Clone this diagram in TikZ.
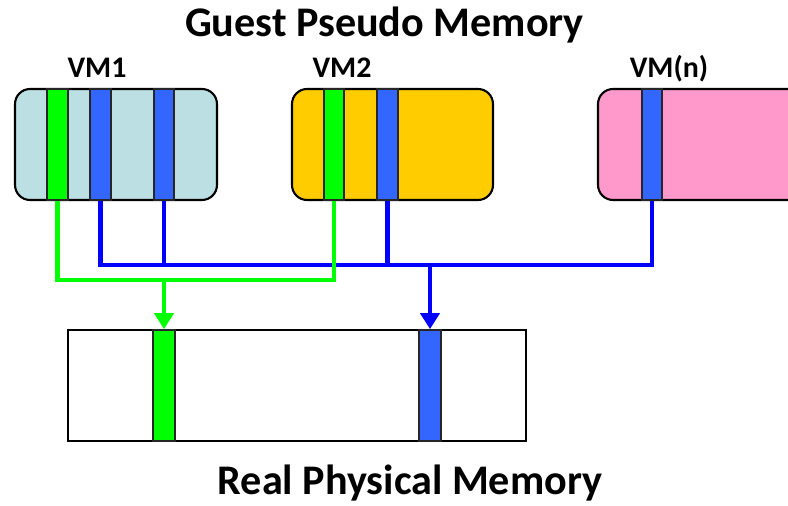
\documentclass[tikz,border=0pt]{standalone}
\usepackage{fontspec}
\setmainfont{Carlito}
\usetikzlibrary{arrows.meta,positioning}
\definecolor{vmcyan}{HTML}{BBDFE2}
\definecolor{vmgold}{HTML}{FFCC00}
\definecolor{vmpink}{HTML}{FF99CC}
\definecolor{pageblue}{HTML}{3366FF}
\definecolor{pagegreen}{HTML}{00FF00}
\definecolor{linkblue}{HTML}{0000FF}

\begin{document}
\begin{tikzpicture}[
  x=0.02cm, y=-0.02cm,
  vmbox/.style={rectangle, draw=black, line width=1.2pt, rounded corners=0.3cm, minimum height=2.22cm, inner sep=0pt},
  membox/.style={rectangle, draw=black, line width=1.2pt, fill=white, minimum height=2.22cm, inner sep=0pt},
  page/.style={rectangle, draw=black!85, line width=1pt, minimum width=0.41cm, minimum height=2.22cm, inner sep=0pt},
  link/.style={line width=2.6pt},
  tip/.style={-{Triangle[width=0.38cm,length=0.32cm]}},
  heading/.style={anchor=base, font=\bfseries\fontsize{24}{28}\selectfont},
  vmname/.style={anchor=base, font=\bfseries\fontsize{17}{20}\selectfont}]
\useasboundingbox (0,0) rectangle (788,506);
\node[heading] (guest) at (384.5,37) {Guest Pseudo Memory};
\node[heading] (real) at (410,495) {Real Physical Memory};
% guest memories
\node[vmname] (n1) at (97,78) {VM1};
\node[vmname] (n2) at (342,78) {VM2};
\node[vmname] (nn) at (669,78) {VM(n)};
\node[vmbox, fill=vmcyan, minimum width=4.04cm] (vm1) at (116,144.5) {};
\node[vmbox, fill=vmgold, minimum width=4.02cm] (vm2) at (392.5,144.5) {};
\node[vmbox, fill=vmpink, minimum width=4.6cm] (vmn) at (713,144.5) {};
\node[page, fill=pagegreen] (g1) at (57.5,144.5) {};
\node[page, fill=pageblue] (b1) at (100.5,144.5) {};
\node[page, fill=pageblue] (b2) at (164,144.5) {};
\node[page, fill=pagegreen] (g2) at (334,144.5) {};
\node[page, fill=pageblue] (b3) at (387.5,144.5) {};
\node[page, fill=pageblue] (bn) at (652,144.5) {};
% physical memory
\node[membox, minimum width=9.16cm] (phys) at (297,385.5) {};
\node[page, fill=pagegreen, minimum width=0.44cm] (pg) at (164,385.5) {};
\node[page, fill=pageblue, minimum width=0.44cm] (pb) at (430,385.5) {};
% mappings, blue first so the green run crosses on top
\coordinate (gbus) at (164,280);
\coordinate (bbus) at (430,265);
\draw[link, linkblue] (b1.south) |- (bbus) -| (bn.south);
\draw[link, linkblue] (b2.south) -- (b2.south |- bbus);
\draw[link, linkblue] (b3.south) -- (b3.south |- bbus);
\draw[link, linkblue, tip] (bbus) -- (pb.north);
\draw[link, pagegreen] (g1.south) |- (gbus) -| (g2.south);
\draw[link, pagegreen, tip] (gbus) -- (pg.north);
\end{tikzpicture}
\end{document}
